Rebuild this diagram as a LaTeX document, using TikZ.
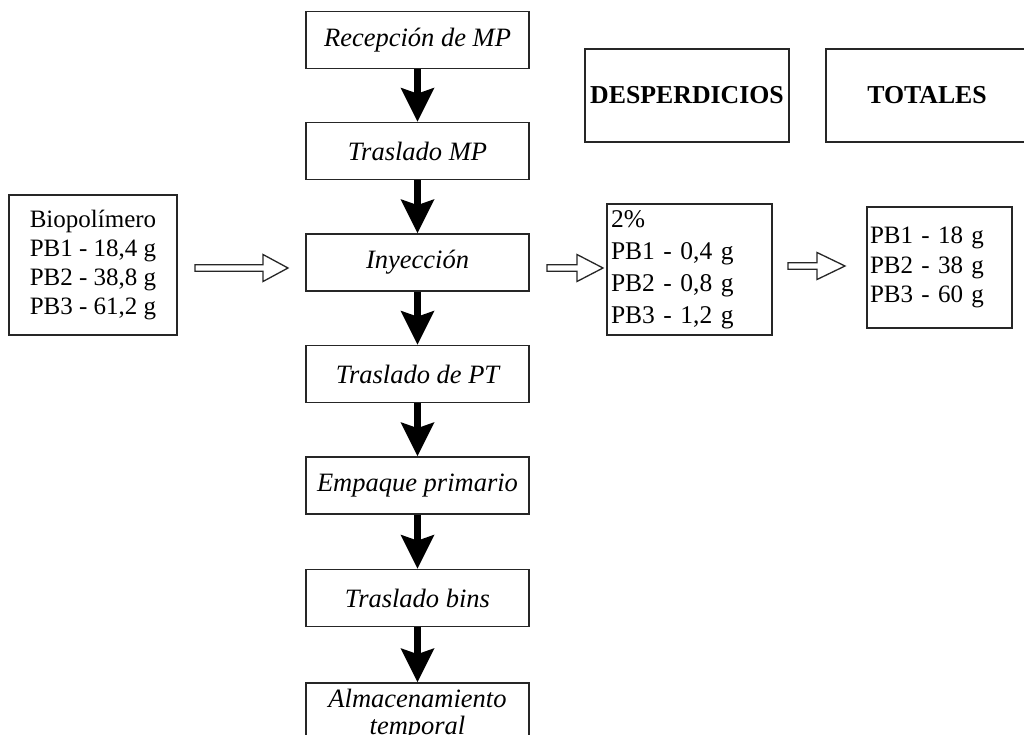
\documentclass[tikz,border=0pt]{standalone}
\usepackage{fontspec}
\setmainfont{Liberation Serif}
\usetikzlibrary{arrows.meta,calc}

% open (hollow) block arrow from tail coordinate #1 to tip coordinate #2, head length #3
\newcommand\openarrow[3]{%
  \draw[hollow] ($(#1)+(0,-3.3)$) -- ($(#2)+(-#3,-3.3)$) -- ($(#2)+(-#3,-13.5)$)
    -- (#2) -- ($(#2)+(-#3,13.5)$) -- ($(#2)+(-#3,3.3)$) -- ($(#1)+(0,3.3)$) -- cycle;}

\begin{document}
\begin{tikzpicture}[x=1pt,y=-1pt,
  outline/.style={draw=black!85, line width=1.8pt},
  procbox/.style={outline, minimum width=223pt, minimum height=57pt, inner sep=0pt,
    font=\fontsize{26.5}{29}\selectfont\itshape, align=center},
  headbox/.style={outline, minimum height=93pt, inner sep=0pt,
    font=\fontsize{25.8}{29}\selectfont\bfseries},
  databox/.style={outline, font=\fontsize{25}{29}\selectfont, inner ysep=0pt},
  flow/.style={line width=7pt, black,
    -{Stealth[length=34pt, width=34pt, inset=6pt, line width=0pt]}},
  hollow/.style={draw=black!85, line width=1.3pt, fill=white, line join=miter}
]
\useasboundingbox (0,0) rectangle (1024,735);
\fill[white] (0,0) rectangle (1024,735);
\clip (0,0) rectangle (1024,735);

% main process column
\node[procbox] (rec) at (417.5,40)    {Recepción de MP};
\node[procbox] (tmp) at (417.5,151)   {Traslado MP};
\node[procbox] (iny) at (417.5,262.5) {Inyección};
\node[procbox] (tpt) at (417.5,374)   {Traslado de PT};
\node[procbox] (emp) at (417.5,485.5) {Empaque primario};
\node[procbox] (tbi) at (417.5,598)   {Traslado bins};
\node[procbox, minimum height=64pt, font=\fontsize{26.5}{27}\selectfont\itshape]
  (alm) at (417.5,715) {Almacenamiento\\temporal};

\draw[flow] (rec) -- (tmp);
\draw[flow] (tmp) -- (iny);
\draw[flow] (iny) -- (tpt);
\draw[flow] (tpt) -- (emp);
\draw[flow] (emp) -- (tbi);
\draw[flow] (tbi) -- (alm);

% column headers
\node[headbox, minimum width=204pt] (desp) at (687,95.5) {DESPERDICIOS};
\node[headbox, minimum width=202pt] (tot)  at (927,95.5) {TOTALES};

% input material
\node[databox, minimum width=168pt, minimum height=140pt, align=center] (bio) at (93,265)
  {Biopolímero\\PB1 - 18,4 g\\PB2 - 38,8 g\\PB3 - 61,2 g};

% waste per product
\node[databox, line width=2.3pt, minimum height=131pt, text width=157pt, inner xsep=4pt,
  align=left, font=\fontsize{25.5}{32}\selectfont] (waste) at (689.5,269.5)
  {2\%\\PB1 - 0,4 g\\PB2 - 0,8 g\\PB3 - 1,2 g};

% totals per product
\node[databox, line width=2.3pt, minimum height=121pt, text width=139pt, inner xsep=3pt,
  align=left, font=\fontsize{25}{29.5}\selectfont] (total) at (939.5,267.5)
  {PB1 - 18 g\\PB2 - 38 g\\PB3 - 60 g};

% open arrows between the columns
\coordinate (a1s) at (195,268);  \coordinate (a1t) at (288,268);
\coordinate (a2s) at (547,268);  \coordinate (a2t) at (603,268);
\coordinate (a3s) at (788,266);  \coordinate (a3t) at (845,266);
\openarrow{a1s}{a1t}{25}
\openarrow{a2s}{a2t}{26}
\openarrow{a3s}{a3t}{28}
\end{tikzpicture}
\end{document}
